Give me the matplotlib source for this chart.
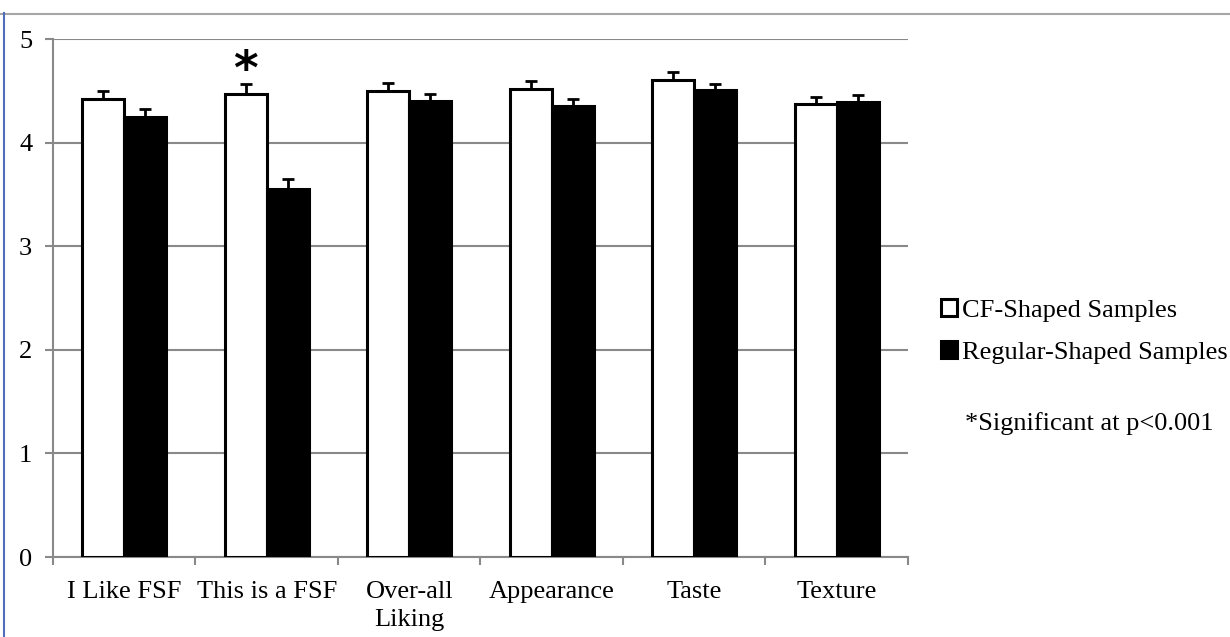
import numpy as np
import matplotlib
matplotlib.use('Agg')
from matplotlib import pyplot as plt
from matplotlib.lines import Line2D

categories = ['I Like FSF', 'This is a FSF', 'Over-all\nLiking', 'Appearance', 'Taste', 'Texture']
cf_means = [4.42, 4.47, 4.50, 4.52, 4.60, 4.37]
cf_err = [0.08, 0.10, 0.08, 0.07, 0.08, 0.07]
reg_means = [4.25, 3.55, 4.40, 4.35, 4.51, 4.39]
reg_err = [0.07, 0.10, 0.07, 0.07, 0.06, 0.07]
series_labels = ['CF-Shaped Samples', 'Regular-Shaped Samples']
yticks = [0, 1, 2, 3, 4, 5]
note = '*Significant at p<0.001'
star_index = 1

plt.rcParams['font.family'] = ['Liberation Serif', 'DejaVu Serif']
grid_gray = '#898989'
fs = 19

fig = plt.figure(figsize=(12.3, 6.37), dpi=100)
ax = fig.add_axes([53 / 1230, 1 - 557 / 637, (908 - 53) / 1230, (557 - 39) / 637])

x = np.arange(len(categories))
w = 0.295
b1 = ax.bar(x - w / 2, cf_means, w, color='white', edgecolor='black', linewidth=2.2,
            label=series_labels[0], zorder=3)
b2 = ax.bar(x + w / 2, reg_means, w, color='black', edgecolor='black', linewidth=2.2,
            label=series_labels[1], zorder=3)
# only the upper half of the error bars is shown
ax.errorbar(x - w / 2, cf_means, yerr=[np.zeros(len(cf_err)), cf_err], fmt='none',
            ecolor='black', elinewidth=2, capsize=4, capthick=2, zorder=4)
ax.errorbar(x + w / 2, reg_means, yerr=[np.zeros(len(reg_err)), reg_err], fmt='none',
            ecolor='black', elinewidth=2, capsize=4, capthick=2, zorder=4)

ax.text(x[star_index] - w / 2, cf_means[star_index] + cf_err[star_index] + 0.12, '*',
        ha='center', va='center', fontsize=34, fontweight='bold', family='DejaVu Sans')

ax.set_xlim(-0.5, len(categories) - 0.5)
ax.set_ylim(0, 5)
ax.set_yticks(yticks)
ax.set_xticks(np.arange(len(categories) + 1) - 0.5, minor=False)
ax.set_xticklabels([''] * (len(categories) + 1))
ax.set_xticks(x, minor=True)
ax.set_xticklabels(categories, minor=True, fontsize=fs, linespacing=1.4)
ax.tick_params(axis='x', which='minor', length=0, pad=17)
ax.tick_params(axis='x', which='major', length=6, width=1.5, color=grid_gray)
ax.tick_params(axis='y', length=6, width=1.5, color=grid_gray, labelsize=fs, pad=9)
ax.yaxis.grid(True, color=grid_gray, linewidth=1.5, zorder=0)
ax.set_axisbelow(True)
for s in ['top', 'right']:
    ax.spines[s].set_visible(False)
for s in ['left', 'bottom']:
    ax.spines[s].set_color(grid_gray)
    ax.spines[s].set_linewidth(1.5)

leg = ax.legend(handles=[b1, b2], loc='upper left', bbox_to_anchor=(941 / 1230, 1 - 299 / 637),
                bbox_transform=fig.transFigure, frameon=False, fontsize=fs, borderpad=0,
                borderaxespad=0, handlelength=0.6, handleheight=0.6, handletextpad=0.2,
                labelspacing=0.75)
for h in leg.legend_handles:
    h.set_linewidth(2.2)

fig.text(965 / 1230, 1 - 430 / 637, note, fontsize=fs, va='baseline', ha='left')

# chart area border lines
fig.add_artist(Line2D([0, 1], [1 - 13.5 / 637] * 2, color='#a6a6a6', linewidth=1.5,
                      transform=fig.transFigure))
fig.add_artist(Line2D([4 / 1230] * 2, [0, 1 - 13 / 637], color='#4f6fb8', linewidth=1.5,
                      transform=fig.transFigure))

fig.savefig('out.png', dpi=100)
